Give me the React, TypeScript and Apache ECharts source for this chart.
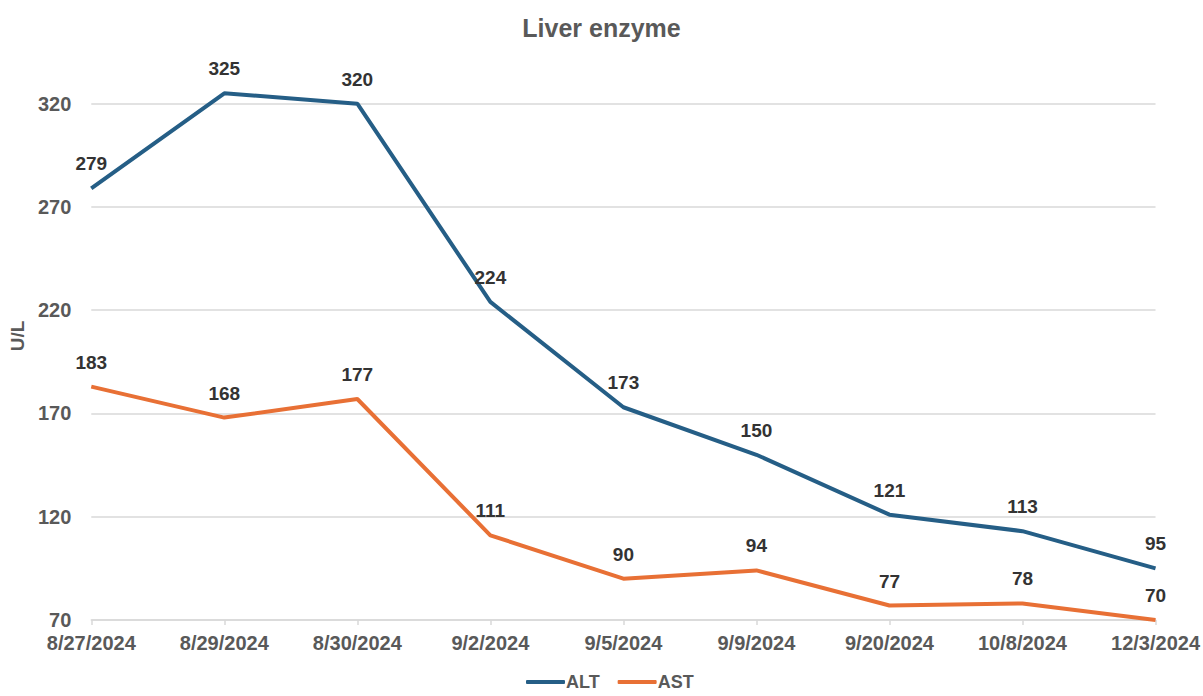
import React, { useEffect, useRef } from "react";
import * as echarts from "echarts";

const categories = ["8/27/2024", "8/29/2024", "8/30/2024", "9/2/2024", "9/5/2024", "9/9/2024", "9/20/2024", "10/8/2024", "12/3/2024"];
const altValues = [279, 325, 320, 224, 173, 150, 121, 113, 95];
const astValues = [183, 168, 177, 111, 90, 94, 77, 78, 70];
const yTicks = [70, 120, 170, 220, 270, 320];

const FONT = "Liberation Sans, Arial, sans-serif";
const GRAY = "#595959";

export default function App() {
  const ref = useRef<HTMLDivElement>(null);
  useEffect(() => {
    if (!ref.current) return;
    const chart = echarts.init(ref.current, null, { renderer: "svg" });
    const labelStyle = {
      show: true,
      position: "top" as const,
      distance: 15,
      fontFamily: FONT,
      fontWeight: "bold" as const,
      fontSize: 19,
      color: "#333333",
    };
    chart.setOption({
      animation: false,
      backgroundColor: "#ffffff",
      title: {
        text: "Liver enzyme",
        left: "center",
        top: 10,
        textStyle: { fontFamily: FONT, fontWeight: "bold", fontSize: 25, color: GRAY },
      },
      legend: {
        bottom: 0,
        left: 521,
        itemWidth: 39,
        itemHeight: 4,
        itemGap: 18,
        icon: "roundRect",
        textStyle: { fontFamily: FONT, fontWeight: "bold", fontSize: 18, color: GRAY, padding: [0, 0, 0, -4] },
        data: ["ALT", "AST"],
      },
      grid: { left: 88, right: 46, top: 52, bottom: 76, containLabel: false },
      xAxis: {
        type: "category",
        data: categories,
        boundaryGap: false,
        axisLine: { lineStyle: { color: "#d9d9d9", width: 1.5 } },
        axisTick: { show: true, length: 5, lineStyle: { color: "#d9d9d9", width: 1.5 } },
        axisLabel: { fontFamily: FONT, fontWeight: "bold", fontSize: 20, color: GRAY, margin: 13 },
      },
      yAxis: {
        type: "value",
        min: 70,
        max: 345,
        name: "U/L",
        nameLocation: "middle",
        nameGap: 62,
        nameRotate: 90,
        nameTextStyle: { fontFamily: FONT, fontWeight: "bold", fontSize: 19, color: GRAY },
        axisLine: { show: false },
        axisTick: { show: false, customValues: yTicks },
        axisLabel: { fontFamily: FONT, fontWeight: "bold", fontSize: 20, color: GRAY, margin: 20, customValues: yTicks },
        splitLine: { show: true, lineStyle: { color: "#d9d9d9", width: 1.5 } },
      },
      series: [
        {
          name: "ALT",
          type: "line",
          data: altValues,
          symbol: "circle",
          symbolSize: 0,
          showSymbol: true,
          lineStyle: { color: "#255E86", width: 4 },
          itemStyle: { color: "#255E86" },
          label: labelStyle,
        },
        {
          name: "AST",
          type: "line",
          data: astValues,
          symbol: "circle",
          symbolSize: 0,
          showSymbol: true,
          lineStyle: { color: "#E87035", width: 4 },
          itemStyle: { color: "#E87035" },
          label: labelStyle,
        },
      ],
    });
    return () => chart.dispose();
  }, []);
  return (
    <div
      ref={ref}
      style={{ position: "fixed", left: 0, top: 0, width: 1203, height: 696, background: "#fff" }}
    />
  );
}
